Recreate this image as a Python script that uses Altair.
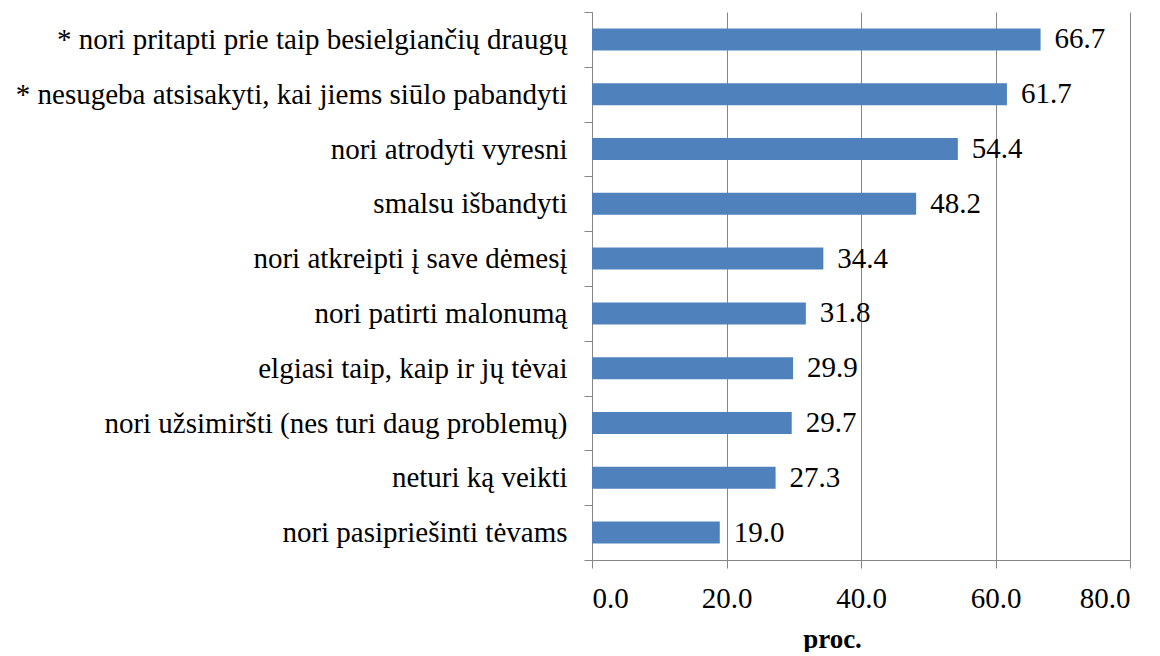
import altair as alt
import pandas as pd

categories = [
    "* nori pritapti prie taip besielgiančių draugų",
    "* nesugeba atsisakyti, kai jiems siūlo pabandyti",
    "nori atrodyti vyresni",
    "smalsu išbandyti",
    "nori atkreipti į save dėmesį",
    "nori patirti malonumą",
    "elgiasi taip, kaip ir jų tėvai",
    "nori užsimiršti (nes turi daug problemų)",
    "neturi ką veikti",
    "nori pasipriešinti tėvams",
]
values = [66.7, 61.7, 54.4, 48.2, 34.4, 31.8, 29.9, 29.7, 27.3, 19.0]
x_ticks = [0, 20, 40, 60, 80]

df = pd.DataFrame({"cat": categories, "val": values})

FONT = "Liberation Serif"
GRID = "#868686"
FS = 29

y = alt.Y(
    "cat:N",
    sort=categories,
    scale=alt.Scale(paddingInner=0, paddingOuter=0),
    axis=alt.Axis(
        title=None,
        tickBand="extent",
        tickSize=8,
        tickColor=GRID,
        domainColor=GRID,
        labelPadding=17,
        labelFont=FONT,
        labelFontSize=FS,
        labelColor="black",
        labelLimit=1000,
        grid=False,
    ),
)

x = alt.X(
    "val:Q",
    scale=alt.Scale(domain=[0, 80]),
    axis=alt.Axis(
        title="proc.",
        values=x_ticks,
        format=".1f",
        grid=True,
        gridColor=GRID,
        gridOpacity=1,
        domainColor=GRID,
        tickColor=GRID,
        tickSize=8,
        labelPadding=16,
        labelFont=FONT,
        labelFontSize=FS,
        labelColor="black",
        titleFont=FONT,
        titleFontSize=27,
        titleFontWeight="bold",
        titleColor="black",
        titleX=240,
        titleY=87,
        titleAlign="center",
        titleBaseline="alphabetic",
    ),
)

bars = alt.Chart(df).mark_bar(color="#4F81BD", size=22).encode(x=x, y=y)
text = alt.Chart(df).mark_text(
    align="left", baseline="middle", dx=14, font=FONT, fontSize=FS, color="black"
).encode(x="val:Q", y=alt.Y("cat:N", sort=categories), text=alt.Text("val:Q", format=".1f"))

chart = (
    alt.layer(bars, text)
    .properties(
        width=538,
        height=548,
        autosize=alt.AutoSizeParams(type="none"),
        padding={"top": 4, "left": 584, "right": 22, "bottom": 92},
    )
    .configure_view(strokeWidth=0)
)

chart.save("out.html", embed_options={"renderer": "svg", "actions": False})
